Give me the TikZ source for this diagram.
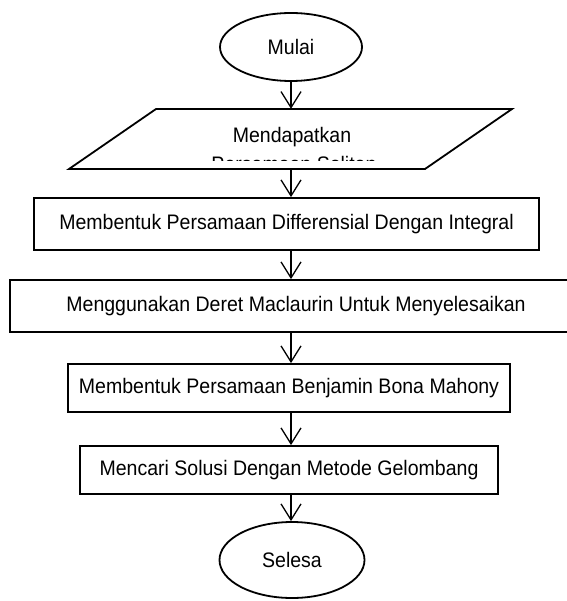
\documentclass[tikz,border=0pt]{standalone}
\usepackage{fontspec}
\setmainfont[FakeStretch=0.93]{Liberation Sans}
\usetikzlibrary{shapes.geometric,arrows.meta}
\begin{document}
\begin{tikzpicture}[x=1pt,y=-1pt,
  shapeline/.style={draw=black,line width=1.8pt},
  txt/.style={font=\fontsize{21}{25}\selectfont},
  procbox/.style={shapeline,txt,inner sep=0pt},
  term/.style={shapeline,txt,ellipse,inner sep=0pt},
  arr/.style={line width=1.3pt,-{Straight Barb[length=16pt,width=20pt,line width=1.3pt]}}]
\useasboundingbox (0,0) rectangle (566,601);
\coordinate (ax) at (291,0);
% start
\node[term, minimum width=142pt, minimum height=68pt] (mulai) at (291,47) {Mulai};
% input parallelogram
\draw[shapeline, line join=miter] (69,169) -- (156,109) -- (512,109) -- (425,169) -- cycle;
\node[minimum width=200pt, minimum height=60pt, inner sep=0pt] (par) at (290,139) {};
\node[txt, anchor=base, inner sep=0pt] (t1) at (292,143) {Mendapatkan};
\begin{scope}
\clip (0,109) rectangle (566,161);
\node[txt, anchor=base, inner sep=0pt] (t2) at (294,172) {Persamaan Soliton};
\end{scope}
% process boxes
\node[procbox, minimum width=505pt, minimum height=52pt] (b1) at (286.5,224) {Membentuk Persamaan Differensial Dengan Integral};
\node[procbox, minimum width=572pt, minimum height=52pt] (b2) at (296,306) {Menggunakan Deret Maclaurin Untuk Menyelesaikan};
\node[procbox, minimum width=442pt, minimum height=48pt] (b3) at (289,388) {Membentuk Persamaan Benjamin Bona Mahony};
\node[procbox, minimum width=418pt, minimum height=48pt] (b4) at (289,470) {Mencari Solusi Dengan Metode Gelombang};
% end
\node[term, minimum width=145pt, minimum height=76pt] (selesa) at (292,560) {Selesa};
% arrows
\draw[arr] (ax |- mulai.south) -- (ax |- par.north);
\draw[arr] (ax |- par.south) -- (ax |- b1.north);
\draw[arr] (ax |- b1.south) -- (ax |- b2.north);
\draw[arr] (ax |- b2.south) -- (ax |- b3.north);
\draw[arr] (ax |- b3.south) -- (ax |- b4.north);
\draw[arr] (ax |- b4.south) -- (ax |- selesa.north);
\end{tikzpicture}
\end{document}
